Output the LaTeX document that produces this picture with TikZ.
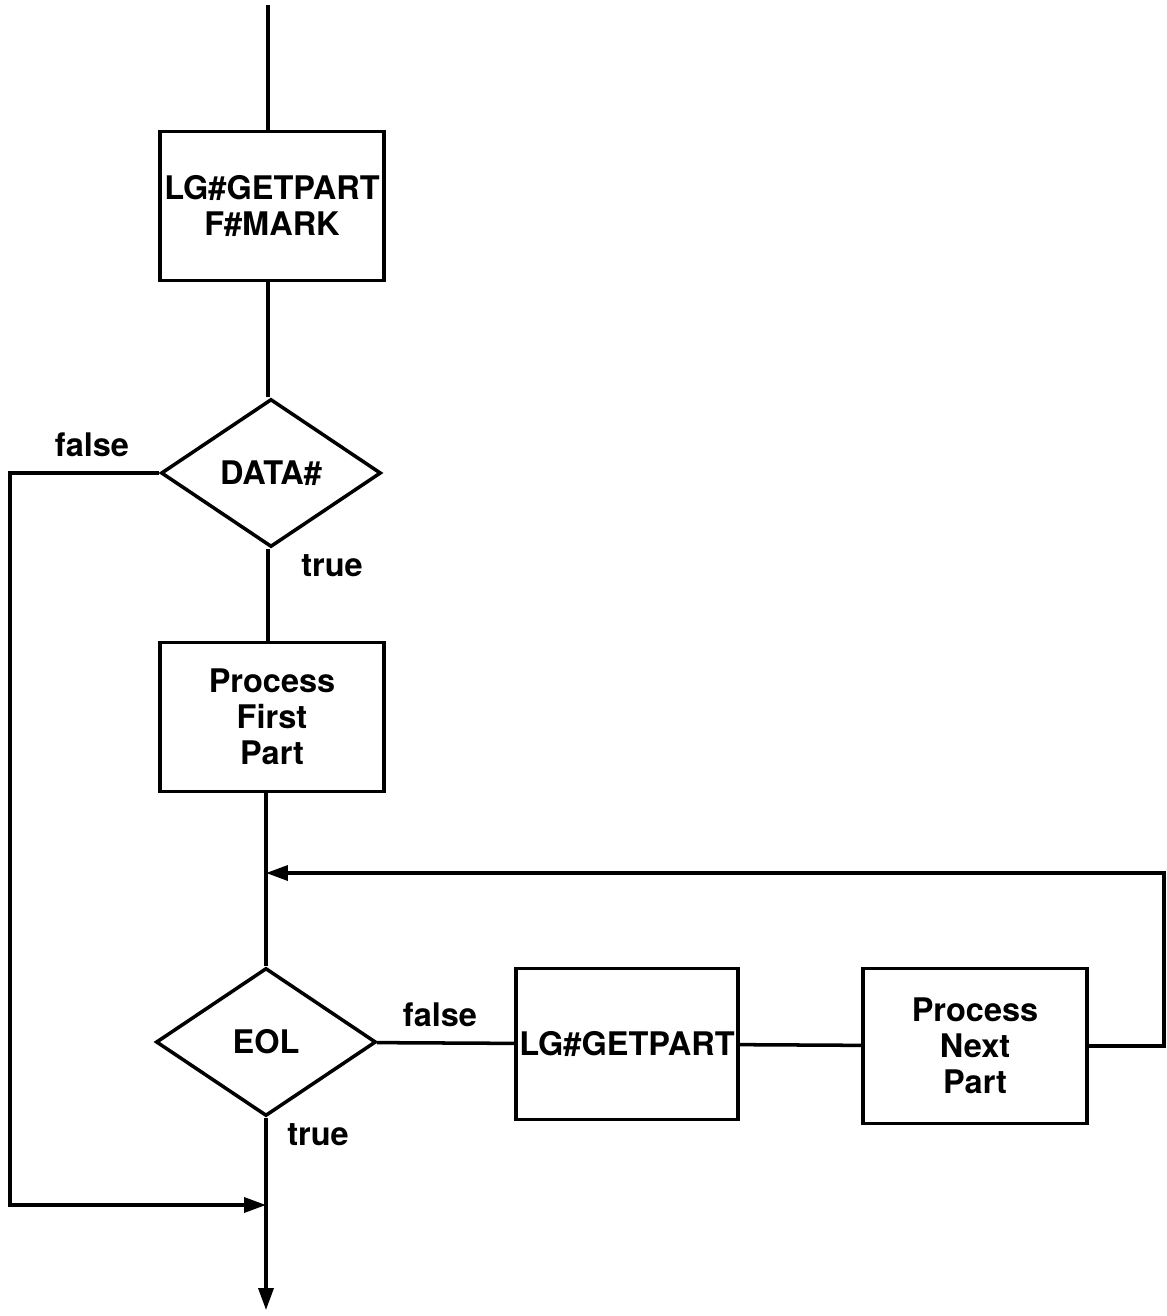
\documentclass[tikz,border=0pt]{standalone}
\usepackage{fontspec}
\setmainfont{TeX Gyre Heros}
\usepackage{tikz}
\usetikzlibrary{arrows.meta,positioning,shapes.geometric}
\tikzset{
  >={Triangle[length=4.4mm,width=3mm]},
  line/.style={draw=black,line width=2pt},
  flow/.style={line,->},
  base/.style={draw=black,line width=2pt,align=center,inner sep=2pt,
               font=\fontsize{18.5}{20.5}\selectfont\bfseries},
  process/.style={base,rectangle,minimum width=4.48cm,minimum height=2.98cm},
  decision/.style={base,diamond,aspect=1.5,minimum width=4.4cm,minimum height=2.96cm},
  lbl/.style={font=\fontsize{18.5}{20.5}\selectfont\bfseries,inner sep=0pt}
}
\begin{document}
\begin{tikzpicture}[x=0.02cm,y=-0.02cm]
  \useasboundingbox (0,0) rectangle (1167,1316);
  % main column
  \coordinate (start) at (268,5);
  \node[process] (mark) at (272,206) {LG\#GETPART\\F\#MARK};
  \node[decision] (data) at (271,473) {DATA\#};
  \node[process] (first) at (272,717) {Process\\First\\Part};
  \node[decision] (eol) at (266,1042) {EOL};
  \coordinate (stop) at (266,1310);
  % side branch
  \node[process,minimum width=4.4cm,minimum height=3.02cm] (getpart) at (627,1044) {LG\#GETPART};
  \node[process,minimum height=3.1cm] (next) at (975,1046) {Process\\Next\\Part};
  \coordinate (lft) at (10,1205);
  \coordinate (rgt) at (1164,873);
  \coordinate (join) at (eol.south |- lft);
  \coordinate (mid) at (eol.north |- first.south);
  \coordinate (merge) at (eol.north |- rgt);
  % connectors
  \draw[line] (start) -- (start |- mark.north);
  \draw[line] (start |- mark.south) -- (start |- data.north);
  \draw[line] (start |- data.south) -- (start |- first.north);
  \draw[line] (mid) -- (eol);
  \draw[flow] (eol) -- (stop);
  \draw[line] (eol) -- (getpart);
  \draw[line] (getpart) -- (next);
  \draw[flow] (data.west) -| (lft) -- (join);
  \draw[flow] (next.east) -| (rgt) -- (merge);
  % branch labels
  \node[lbl] (dfalse) at (92,445) {false};
  \node[lbl] (dtrue) at (332,566) {true};
  \node[lbl] (efalse) at (440,1015) {false};
  \node[lbl] (etrue) at (318,1135) {true};
\end{tikzpicture}
\end{document}
